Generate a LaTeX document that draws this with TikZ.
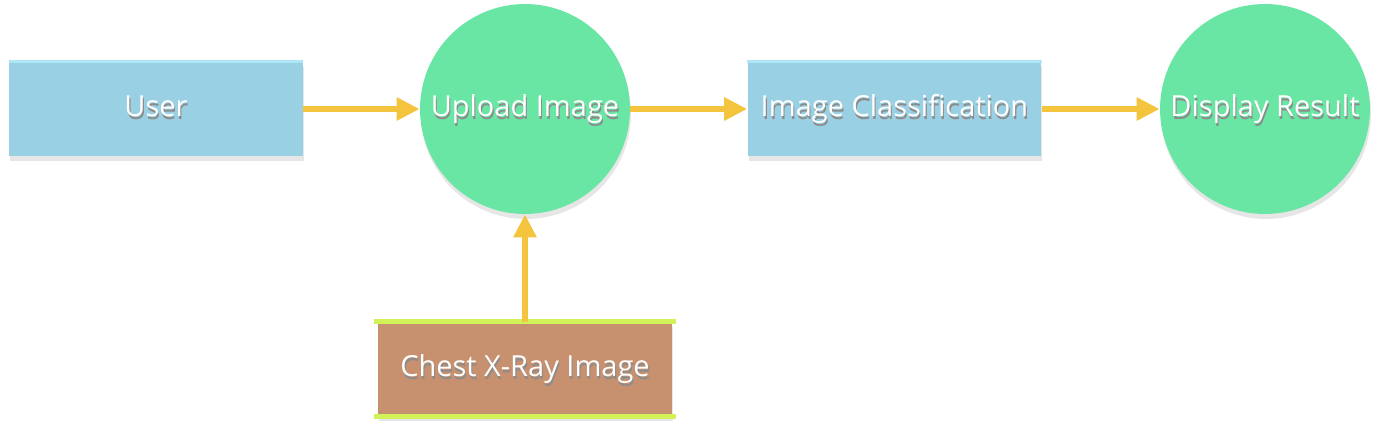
\documentclass[tikz,border=0pt]{standalone}
\usepackage{fontspec}
\setmainfont{Open Sans}
\usetikzlibrary{arrows.meta, shadows}
\definecolor{kasten}{HTML}{99D0E4}
\definecolor{kastenrand}{HTML}{AEE5F7}
\definecolor{kreis}{HTML}{69E6A4}
\definecolor{braun}{HTML}{C7906E}
\definecolor{limette}{HTML}{D2F25A}
\definecolor{pfeil}{HTML}{F4C43E}
\newcommand{\schrift}[1]{\makebox[0pt][l]{\raisebox{-1.3pt}{\hspace{0.6pt}\color{black!45}#1}}#1}

\begin{document}
\begin{tikzpicture}[x=0.02cm, y=-0.02cm,
    schatten/.style={drop shadow={opacity=0.2, shadow xshift=0.02cm, shadow yshift=-0.1cm}},
    kastenstil/.style={rectangle, fill=kasten, minimum width=5.88cm, minimum height=1.88cm, inner sep=0pt, schatten},
    kreisstil/.style={circle, fill=kreis, minimum size=4.2cm, inner sep=0pt, schatten},
    quellstil/.style={rectangle, fill=braun, minimum width=5.88cm, minimum height=1.88cm, inner sep=0pt, schatten},
    fluss/.style={-{Triangle[width=0.44cm, length=0.46cm]}, draw=pfeil, line width=0.12cm},
    every node/.style={text=white, font=\fontsize{16.5}{19}\selectfont, text height=0.88em, text depth=0pt}]
    \useasboundingbox (0,0) rectangle (1390,433);
    \node[kastenstil] (user) at (156,109) {\schrift{User}};
    \node[kreisstil] (upload) at (525,109) {\schrift{Upload Image}};
    \node[kastenstil] (klass) at (894.5,109) {\schrift{Image Classification}};
    \node[kreisstil] (anzeige) at (1265,109) {\schrift{Display Result}};
    \node[quellstil] (roentgen) at (525,369) {\schrift{Chest X-Ray Image}};
    % helle Oberkante der blauen Kasten
    \draw[kastenrand, line width=0.06cm] (user.north west) -- (user.north east);
    \draw[kastenrand, line width=0.06cm] (klass.north west) -- (klass.north east);
    % Datenspeicher-Linien
    \draw[limette, line width=0.1cm] ([xshift=-0.08cm]roentgen.north west) -- ([xshift=0.08cm]roentgen.north east);
    \draw[limette, line width=0.1cm] ([xshift=-0.08cm]roentgen.south west) -- ([xshift=0.08cm]roentgen.south east);
    % Pfeile
    \draw[fluss] (user.east) -- (upload.west);
    \draw[fluss] (upload.east) -- (klass.west);
    \draw[fluss] (klass.east) -- (anzeige.west);
    \draw[fluss] (roentgen.north) -- (upload.south);
\end{tikzpicture}
\end{document}
